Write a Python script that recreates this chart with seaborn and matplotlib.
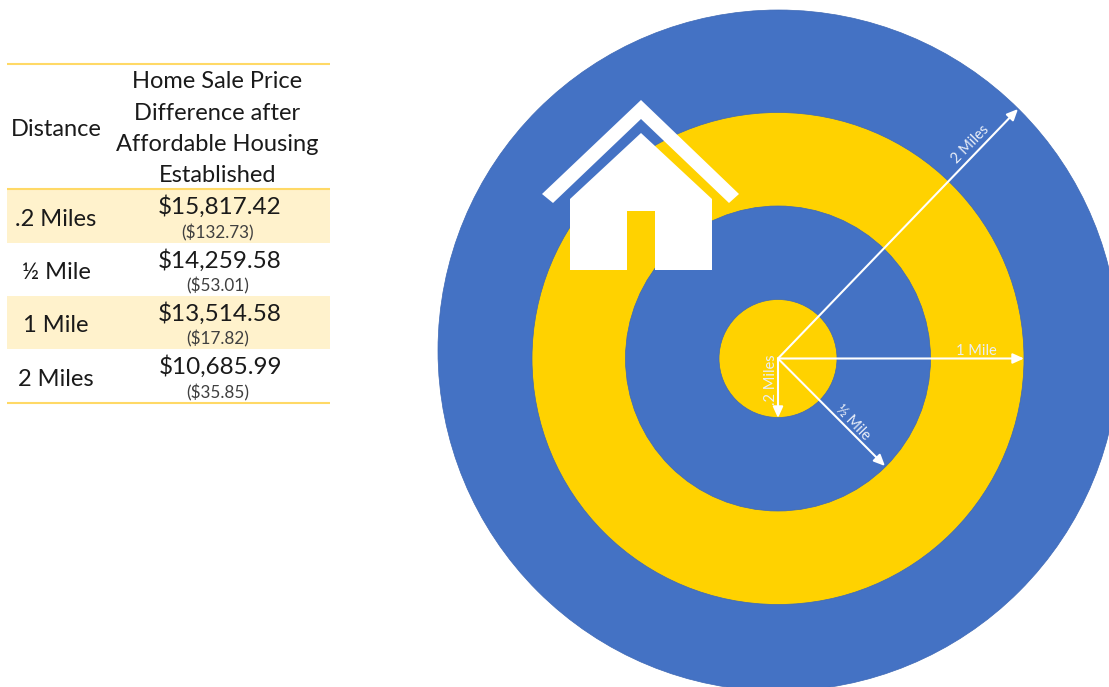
import numpy as np
import seaborn as sns
import matplotlib
matplotlib.use('Agg')
import matplotlib.pyplot as plt
from matplotlib.patches import Circle, Polygon, Rectangle

# ==========================================================
# DATA
# ==========================================================

distances = [".2 Miles", "½ Mile", "1 Mile", "2 Miles"]
price_diffs = ["$15,817.42", "$14,259.58", "$13,514.58", "$10,685.99"]
std_errors = ["($132.73)", "($53.01)", "($17.82)", "($35.85)"]
header_lines = ["Home Sale Price", "Difference after", "Affordable Housing", "Established"]

ring_labels = ["2 Miles", "1 Mile", "½ Mile", ".2 Miles"]
ring_radii = [340.5, 246, 152.5, 59]
ring_colors = ["#4472c4", "#ffd200", "#4472c4", "#ffd200"]

# ==========================================================
# STYLE
# ==========================================================

sns.set_theme(style="white")
plt.rcParams['font.family'] = ['Lato', 'DejaVu Sans']

LINE = "#ffd966"
BAND = "#fff2cc"
TEXT = "#1a1a1a"
CX, CY = 778, 358.5

fig = plt.figure(figsize=(11.09, 6.87), dpi=100)
ax = fig.add_axes([0, 0, 1, 1])
ax.set_xlim(0, 1109)
ax.set_ylim(687, 0)
ax.axis('off')

# ==========================================================
# TABLE
# ==========================================================

row_tops = [189, 243, 296, 349, 403]
for i in range(len(distances)):
    if i % 2 == 0:
        ax.add_patch(Rectangle((7, row_tops[i]), 323, row_tops[i + 1] - row_tops[i],
                               facecolor=BAND, edgecolor='none'))
    mid = (row_tops[i] + row_tops[i + 1]) / 2
    ax.text(56, mid + 3, distances[i], ha='center', va='center', fontsize=17, color=TEXT)
    ax.text(220, mid - 9, price_diffs[i], ha='center', va='center', fontsize=17.5, color=TEXT)
    ax.text(217.5, mid + 16.5, std_errors[i], ha='center', va='center', fontsize=12.3, color="#404040")

for y in [64, 189, 403]:
    ax.plot([7, 330], [y, y], color=LINE, lw=1.5, solid_capstyle='butt')

ax.text(56, 129, "Distance", ha='center', va='center', fontsize=17, color=TEXT)
for y, line in zip([82, 113, 144.5, 176], header_lines):
    ax.text(217.5, y, line, ha='center', va='center', fontsize=17, color=TEXT)

# ==========================================================
# RINGS
# ==========================================================

# the outer circle sits a little higher than the other three
for r, c in zip(ring_radii, ring_colors):
    center = (778.5, 350.5) if r == ring_radii[0] else (CX, CY)
    ax.add_patch(Circle(center, r, facecolor=c, edgecolor='#3d68b5', lw=0.5))

# house body with the door cut out, and the roof chevron
house = [(570, 199), (641, 133), (712, 199), (712, 270), (655, 270), (655, 211),
         (627, 211), (627, 270), (570, 270)]
roof = [(542, 194), (641, 100), (739, 194), (729, 203), (641, 119), (553, 203)]
ax.add_patch(Polygon(house, closed=True, facecolor='white', edgecolor='none'))
ax.add_patch(Polygon(roof, closed=True, facecolor='white', edgecolor='none'))

# ==========================================================
# RADIUS ARROWS
# ==========================================================

arrow_ends = [(1018, 109), (1024, CY), (885, 466), (CX, 418)]
label_pos = [(970, 144, 46), (976, 351, 0), (853, 423, -46), (771, 380, 90)]

for end, pos, label in zip(arrow_ends, label_pos, ring_labels):
    ax.annotate("", xy=end, xytext=(CX, CY),
                arrowprops=dict(arrowstyle='-|>,head_length=0.55,head_width=0.25',
                                color='white', lw=1.5, shrinkA=0, shrinkB=0))
    ax.text(pos[0], pos[1], label, ha='center', va='center', rotation=pos[2],
            rotation_mode='anchor', fontsize=10.5, color="#e9eef8")

fig.savefig("out.png", dpi=100)
